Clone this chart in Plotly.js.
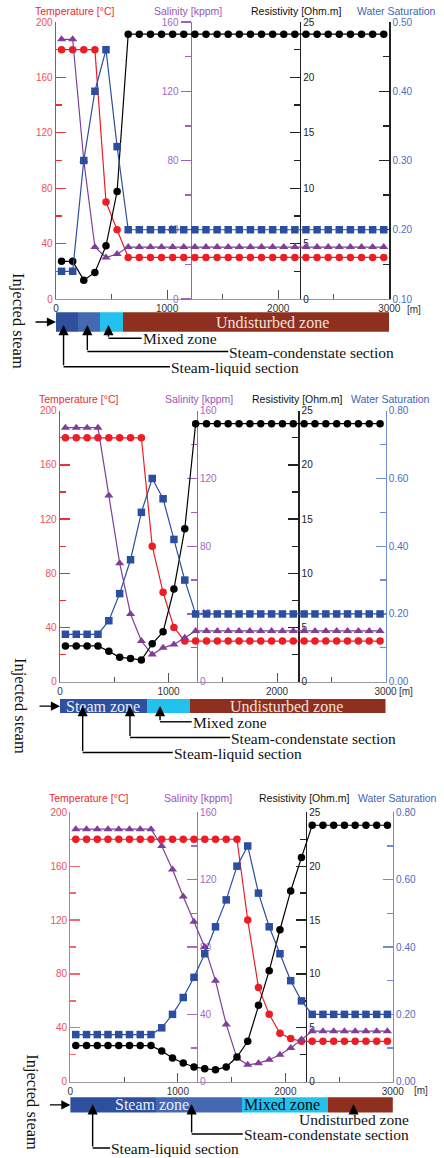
<!DOCTYPE html>
<html>
<head>
<meta charset="utf-8">
<script src="https://cdn.plot.ly/plotly-3.0.1.min.js"></script>
<style>
  html, body { margin: 0; padding: 0; background: #ffffff; }
  #chart { width: 444px; height: 1158px; }
</style>
</head>
<body>
<div id="chart"></div>
<script>
// Cell-centre distance from the injection well [m]
const distance = [50, 150, 250, 350, 450, 550, 650, 750, 850, 950,
  1050, 1150, 1250, 1350, 1450, 1550, 1650, 1750, 1850, 1950,
  2050, 2150, 2250, 2350, 2450, 2550, 2650, 2750, 2850, 2950];

// ---- Stage 1 ----
const temp1 = [180, 180, 180, 180, 70, 50, 30, 30, 30, 30, 30, 30, 30, 30, 30, 30, 30, 30, 30, 30, 30, 30, 30, 30, 30, 30, 30, 30, 30, 30];
const sal1 = [150, 150, 80, 30, 24, 26, 30, 30, 30, 30, 30, 30, 30, 30, 30, 30, 30, 30, 30, 30, 30, 30, 30, 30, 30, 30, 30, 30, 30, 30];
const res1 = [3.4, 3.4, 1.7, 2.4, 4.8, 9.7, 23.9, 23.9, 23.9, 23.9, 23.9, 23.9, 23.9, 23.9, 23.9, 23.9, 23.9, 23.9, 23.9, 23.9, 23.9, 23.9, 23.9, 23.9, 23.9, 23.9, 23.9, 23.9, 23.9, 23.9];
const sw1 = [0.14, 0.14, 0.30, 0.40, 0.46, 0.32, 0.20, 0.20, 0.20, 0.20, 0.20, 0.20, 0.20, 0.20, 0.20, 0.20, 0.20, 0.20, 0.20, 0.20, 0.20, 0.20, 0.20, 0.20, 0.20, 0.20, 0.20, 0.20, 0.20, 0.20];
const zoneKind1 = ['liquid', 'condensate', 'mixed', 'undisturbed'];
const zoneStart1 = [0, 200, 400, 600];
const zoneEnd1 = [200, 400, 600, 3000];

// ---- Stage 2 ----
const temp2 = [180, 180, 180, 180, 180, 180, 180, 180, 100, 66, 40, 30, 30, 30, 30, 30, 30, 30, 30, 30, 30, 30, 30, 30, 30, 30, 30, 30, 30, 30];
const sal2 = [150, 150, 150, 150, 110, 70, 40, 24, 16, 20, 22, 26, 30, 30, 30, 30, 30, 30, 30, 30, 30, 30, 30, 30, 30, 30, 30, 30, 30, 30];
const res2 = [3.3, 3.3, 3.3, 3.3, 2.8, 2.25, 2.15, 2.0, 3.5, 4.6, 8.55, 14.1, 23.8, 23.8, 23.8, 23.8, 23.8, 23.8, 23.8, 23.8, 23.8, 23.8, 23.8, 23.8, 23.8, 23.8, 23.8, 23.8, 23.8, 23.8];
const sw2 = [0.14, 0.14, 0.14, 0.14, 0.18, 0.26, 0.36, 0.50, 0.60, 0.54, 0.42, 0.30, 0.20, 0.20, 0.20, 0.20, 0.20, 0.20, 0.20, 0.20, 0.20, 0.20, 0.20, 0.20, 0.20, 0.20, 0.20, 0.20, 0.20, 0.20];
const zoneKind2 = ['steam', 'mixed', 'undisturbed'];
const zoneStart2 = [0, 800, 1200];
const zoneEnd2 = [800, 1200, 3000];

// ---- Stage 3 ----
const temp3 = [180, 180, 180, 180, 180, 180, 180, 180, 180, 180, 180, 180, 180, 180, 180, 180, 120, 70, 50, 36, 32, 30, 30, 30, 30, 30, 30, 30, 30, 30];
const sal3 = [150, 150, 150, 150, 150, 150, 150, 150, 140, 126, 110, 95, 80, 60, 34, 14, 10, 11, 13, 16, 20, 25, 30, 30, 30, 30, 30, 30, 30, 30];
const res3 = [3.35, 3.35, 3.35, 3.35, 3.35, 3.35, 3.35, 3.35, 2.84, 2.2, 1.74, 1.37, 1.2, 1.1, 1.37, 2.29, 3.75, 7.1, 10.3, 14.1, 17.7, 20.8, 23.8, 23.8, 23.8, 23.8, 23.8, 23.8, 23.8, 23.8];
const sw3 = [0.14, 0.14, 0.14, 0.14, 0.14, 0.14, 0.14, 0.14, 0.16, 0.20, 0.25, 0.31, 0.38, 0.46, 0.54, 0.64, 0.70, 0.56, 0.46, 0.38, 0.30, 0.24, 0.20, 0.20, 0.20, 0.20, 0.20, 0.20, 0.20, 0.20];
const zoneKind3 = ['liquid', 'condensate', 'mixed', 'undisturbed'];
const zoneStart3 = [0, 800, 1600, 2400];
const zoneEnd3 = [800, 1600, 2400, 3000];

// Axis titles
const axisTitles = ['Temperature [°C]', 'Salinity [kppm]', 'Resistivity [Ohm.m]', 'Water Saturation'];

// ---------------------------------------------------------------- styling
const W = 444, H = 1158;
const fx = px => px / W;
const fy = py => 1 - py / H;
const SANS = '"Liberation Sans", Arial, Helvetica, sans-serif';
const SERIF = '"Liberation Serif", "Times New Roman", Times, serif';

const seriesColor = { temp: '#EE1C25', sal: '#7F3F98', res: '#000000', sw: '#2C4EA0' };
const titleColor = ['#EE2A30', '#9A55B8', '#111111', '#3F64B5'];
const zoneColor = {
  liquid: '#2E4F9E', condensate: '#4468B1', steam: '#2F50A0',
  mixed: '#22C1EE', undisturbed: '#8E2F1F'
};

// Per-stage frame geometry (page pixels) and decorations
const stages = [
  {
    temp: temp1, sal: sal1, res: res1, sw: sw1,
    kind: zoneKind1, start: zoneStart1, end: zoneEnd1,
    left: 56, right: 389.3, top: 22, bottom: 299,
    salAt: 190.5, salSide: 'left', resAt: 300,
    swRange: [0.10, 0.50], swDtick: 0.10, swMinor: 0.05, swLine: '#222222',
    tempLine: '#EE3038', salLine: '#9E62BC',
    barTop: 312.3, barBottom: 331.7, tipY: 325,
    titleY: 10.5, titleX: [74.7, 187.5, 296, 396.7], unitX: 405, unitY: 309,
    bandLabels: [{ text: 'Undisturbed zone', at: 1950, color: '#F3E2DC' }],
    pointers: [
      { text: 'Mixed zone', at: 472, lineY: 338.3, textAt: 771 },
      { text: 'Steam-condenstate section', at: 282, lineY: 351.5, textAt: 1551 },
      { text: 'Steam-liquid section', at: 68, lineY: 366.7, textAt: 1026 }
    ],
    injected: { x: 19, y: 321 }
  },
  {
    temp: temp2, sal: sal2, res: res2, sw: sw2,
    kind: zoneKind2, start: zoneStart2, end: zoneEnd2,
    left: 60, right: 385.5, top: 410.7, bottom: 681.7,
    salAt: 196.7, salSide: 'right', resAt: 298.3,
    swRange: [0, 0.80], swDtick: 0.20, swMinor: 0.10, swLine: '#6F8ED0',
    tempLine: '#EE3038', salLine: '#9E62BC',
    barTop: 699, barBottom: 713.3, tipY: 706,
    titleY: 399.5, titleX: [79.2, 198.7, 297, 390.8], unitX: 397, unitY: 691,
    bandLabels: [
      { text: 'Steam zone', at: 400, color: '#E6ECF8' },
      { text: 'Undisturbed zone', at: 2090, color: '#F3E2DC' }
    ],
    pointers: [
      { text: 'Mixed zone', at: 922, lineY: 721.8, textAt: 1214 },
      { text: 'Steam-condenstate section', at: 645, lineY: 737.5, textAt: 1567 },
      { text: 'Steam-liquid section', at: 209, lineY: 752.5, textAt: 1039 }
    ],
    injected: { x: 20.5, y: 705.5 }
  },
  {
    temp: temp3, sal: sal3, res: res3, sw: sw3,
    kind: zoneKind3, start: zoneStart3, end: zoneEnd3,
    left: 70.4, right: 392.8, top: 812.3, bottom: 1081.7,
    salAt: 196.7, salSide: 'right', resAt: 306,
    swRange: [0, 0.80], swDtick: 0.20, swMinor: 0.10, swLine: '#6F8ED0',
    tempLine: '#F26A6E', salLine: '#A56CC2',
    barTop: 1097.3, barBottom: 1112.5, tipY: 1104.3,
    titleY: 798, titleX: [88.8, 197.7, 304.7, 397], unitX: 411.7, unitY: 1090.5,
    bandLabels: [
      { text: 'Steam zone', at: 760, color: '#E6ECF8' },
      { text: 'Mixed zone', at: 1965, color: '#0A0A0A' }
    ],
    pointers: [
      { text: 'Undisturbed zone', at: 2635, lineY: 1114, below: true, textY: 1119 },
      { text: 'Steam-condenstate section', at: 1128, lineY: 1134, textAt: 1604 },
      { text: 'Steam-liquid section', at: 207, lineY: 1148, textAt: 369 }
    ],
    injected: { x: 32.3, y: 1102.5 }
  }
];

const layout = {
  width: W, height: H,
  margin: { l: 0, r: 0, t: 0, b: 0 },
  paper_bgcolor: '#ffffff', plot_bgcolor: 'rgba(0,0,0,0)',
  showlegend: false, dragmode: false, bargap: 0,
  font: { family: SANS, size: 10, color: '#333333' },
  annotations: [], shapes: []
};
const traces = [];

const axKey = (letter, n) => letter + 'axis' + (n === 1 ? '' : n);
const axRef = (letter, n) => letter + (n === 1 ? '' : n);

function yAxisBase(color, textColor, dtick, minor) {
  return {
    showline: true, linecolor: color, linewidth: 1.3,
    ticks: 'inside', ticklen: 10, tickwidth: 1.3, tickcolor: color,
    dtick: dtick, tick0: 0,
    minor: { dtick: minor, ticks: 'inside', ticklen: 6, tickwidth: 1.3, tickcolor: color },
    tickfont: { family: SANS, size: 10, color: textColor },
    showgrid: false, zeroline: false, fixedrange: true, layer: 'below traces'
  };
}

stages.forEach((s, i) => {
  const xn = i + 1;
  const xr = axRef('x', xn);
  const b = i * 4 + 1;
  const nT = b, nS = b + 1, nR = b + 2, nW = b + 3, nZ = 13 + i;
  const yDomain = [fy(s.bottom), fy(s.top)];

  // distance axis
  layout[axKey('x', xn)] = {
    domain: [fx(s.left), fx(s.right)], range: [0, 3000], anchor: axRef('y', nT),
    dtick: 1000, tick0: 0, ticks: 'inside', ticklen: 9, tickwidth: 1, tickcolor: '#555555',
    minor: { dtick: 500, ticks: 'inside', ticklen: 5, tickwidth: 1, tickcolor: '#555555' },
    showline: true, linecolor: '#9a9a9a', linewidth: 1,
    tickfont: { family: SANS, size: 10, color: '#333333' },
    showgrid: false, zeroline: false, fixedrange: true, layer: 'below traces'
  };

  // temperature (left)
  layout[axKey('y', nT)] = Object.assign(yAxisBase(s.tempLine, '#F0505A', 40, 20), {
    domain: yDomain, range: [0, 200], anchor: xr, side: 'left'
  });
  // salinity (free, inside the frame)
  const sal = yAxisBase(s.salLine, '#A468C4', 40, 20);
  if (s.salSide === 'left') {
    sal.ticks = 'outside';
    sal.minor.ticks = 'outside';
  }
  layout[axKey('y', nS)] = Object.assign(sal, {
    range: [0, 160], overlaying: axRef('y', nT), anchor: 'free',
    position: fx(s.salAt), side: s.salSide
  });
  // resistivity (free)
  layout[axKey('y', nR)] = Object.assign(yAxisBase('#222222', '#222222', 5, 2.5), {
    range: [0, 25], overlaying: axRef('y', nT), anchor: 'free',
    position: fx(s.resAt), side: 'right'
  });
  // water saturation (right edge)
  layout[axKey('y', nW)] = Object.assign(yAxisBase(s.swLine, '#4A6EC0', s.swDtick, s.swMinor), {
    range: s.swRange, tick0: s.swRange[0], overlaying: axRef('y', nT), anchor: xr,
    side: 'right', tickformat: '.2f'
  });
  // zone strip
  layout[axKey('y', nZ)] = {
    domain: [fy(s.barBottom), fy(s.barTop)], range: [-0.5, 0.5],
    anchor: xr, visible: false, fixedrange: true
  };

  // zone strip as horizontal bars
  traces.push({
    type: 'bar', orientation: 'h',
    base: s.start,
    x: s.end.map((e, k) => e - s.start[k]),
    y: s.kind.map(() => 0),
    width: 1,
    xaxis: xr, yaxis: axRef('y', nZ),
    marker: { color: s.kind.map(k => zoneColor[k]), line: { width: 0 } },
    hoverinfo: 'skip'
  });

  const series = (vals, yn, color, symbol, size) => ({
    type: 'scatter', mode: 'lines+markers',
    x: distance, y: vals, xaxis: xr, yaxis: axRef('y', yn),
    line: { color: color, width: 1.2 },
    marker: { color: color, symbol: symbol, size: size },
    cliponaxis: false, hoverinfo: 'skip'
  });
  traces.push(series(s.temp, nT, seriesColor.temp, 'circle', 7.5));
  traces.push(series(s.sal, nS, seriesColor.sal, 'triangle-up', 8));
  traces.push(series(s.sw, nW, seriesColor.sw, 'square', 7.5));
  traces.push(series(s.res, nR, seriesColor.res, 'circle', 7.5));

  // axis titles
  axisTitles.forEach((t, k) => {
    layout.annotations.push({
      xref: 'paper', yref: 'paper', x: fx(s.titleX[k]), y: fy(s.titleY),
      xanchor: 'center', yanchor: 'middle', showarrow: false, text: t,
      font: { family: SANS, size: 10.5, color: titleColor[k] }
    });
  });
  // distance unit
  layout.annotations.push({
    xref: 'paper', yref: 'paper', x: fx(s.unitX), y: fy(s.unitY),
    xanchor: 'left', yanchor: 'middle', showarrow: false, text: '[m]',
    font: { family: SANS, size: 10, color: '#333333' }
  });

  // zone names drawn on the strip
  s.bandLabels.forEach(l => {
    layout.annotations.push({
      xref: xr, yref: axRef('y', nZ), x: l.at, y: 0,
      xanchor: 'center', yanchor: 'middle', showarrow: false, text: l.text,
      font: { family: SERIF, size: 16, color: l.color }
    });
  });

  // pointers to the zones
  s.pointers.forEach(p => {
    layout.annotations.push({
      xref: xr, yref: 'paper', x: p.at, y: fy(s.tipY),
      ax: 0, ay: p.lineY - s.tipY, text: '', showarrow: true,
      arrowhead: 2, arrowsize: 1.45, arrowwidth: 1.4, arrowcolor: '#000000', standoff: 0
    });
    if (p.below) {
      layout.annotations.push({
        xref: xr, yref: 'paper', x: p.at, y: fy(p.textY),
        xanchor: 'center', yanchor: 'middle', showarrow: false, text: p.text,
        borderpad: 0, font: { family: SERIF, size: 15.5, color: '#111111' }
      });
    } else {
      layout.shapes.push({
        type: 'line', xref: xr, yref: 'paper',
        x0: p.at, x1: p.textAt, y0: fy(p.lineY), y1: fy(p.lineY),
        line: { color: '#000000', width: 1.4 }
      });
      layout.annotations.push({
        xref: xr, yref: 'paper', x: p.textAt, y: fy(p.lineY + 0.5),
        xanchor: 'left', yanchor: 'middle', showarrow: false, text: p.text,
        borderpad: 0, font: { family: SERIF, size: 15.5, color: '#111111' }
      });
    }
  });

  // injection arrow and label
  layout.annotations.push({
    xref: xr, yref: axRef('y', nZ), x: 0, y: 0,
    ax: -22, ay: 0, text: '', showarrow: true,
    arrowhead: 2, arrowsize: 1.3, arrowwidth: 1.4, arrowcolor: '#000000', standoff: 0
  });
  layout.annotations.push({
    xref: 'paper', yref: 'paper', x: fx(s.injected.x), y: fy(s.injected.y),
    xanchor: 'center', yanchor: 'middle', showarrow: false, textangle: 90,
    text: 'Injected steam', font: { family: SERIF, size: 16.5, color: '#111111' }
  });
});

Plotly.newPlot('chart', traces, layout, { staticPlot: true, displayModeBar: false });
</script>
</body>
</html>
